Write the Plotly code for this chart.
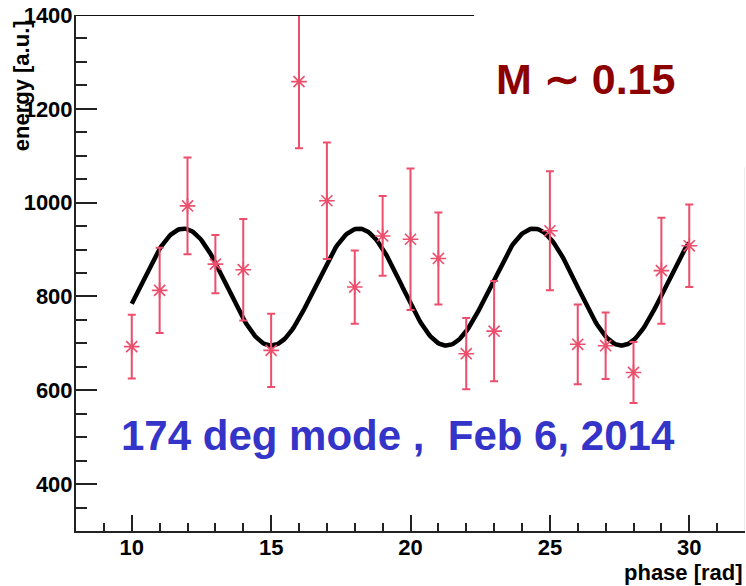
import numpy as np
import plotly.graph_objects as go

# Measured energy per phase bin
phase = [10, 11, 12, 13, 14, 15, 16, 17, 18, 19, 20, 21, 22, 23, 25, 26, 27, 28, 29, 30]
energy = [693, 813, 993, 869, 857, 685, 1258, 1004, 820, 929, 922, 881, 678, 726, 940, 698, 695, 638, 855, 908]
energy_err = [68, 91, 103, 62, 108, 78, 142, 124, 78, 85, 151, 98, 76, 107, 127, 85, 71, 65, 113, 88]

# Fit: E(phi) = E0 * (1 + M * cos(phi - phi0))
fit_e0 = 820.0
fit_m = 0.152
fit_phi0 = 11.86
fit_range = (10.0, 30.0)

x_range = [8, 32]
y_range = [300, 1400]

point_color = "rgb(236,78,108)"
font_family = "Liberation Sans, Arial, sans-serif"

fit_x = np.linspace(fit_range[0], fit_range[1], 400)
fit_y = fit_e0 * (1 + fit_m * np.cos(fit_x - fit_phi0))

fig = go.Figure()

fig.add_trace(go.Scatter(
    x=fit_x, y=fit_y, mode="lines",
    line=dict(color="black", width=4.5),
    hoverinfo="skip", showlegend=False,
))

fig.add_trace(go.Scatter(
    x=phase, y=energy, mode="markers",
    marker=dict(symbol="asterisk-open", size=13, color=point_color,
                line=dict(color=point_color, width=1.6)),
    error_y=dict(type="data", array=energy_err, visible=True,
                 color=point_color, thickness=2, width=4),
    showlegend=False,
))

# small centre dots of the markers
fig.add_trace(go.Scatter(
    x=phase, y=energy, mode="markers",
    marker=dict(symbol="circle", size=4, color=point_color),
    hoverinfo="skip", showlegend=False,
))

axis_font = dict(family=font_family, size=22, color="black", weight="bold")

fig.update_xaxes(
    range=x_range, tickvals=[10, 15, 20, 25, 30],
    ticks="inside", ticklen=16, tickwidth=1.5, tickcolor="#222",
    minor=dict(dtick=1, tick0=0, ticks="inside", ticklen=8, tickwidth=1.5, tickcolor="#222"),
    showline=True, linecolor="#222", linewidth=2,
    showgrid=False, zeroline=False, tickfont=axis_font,
    ticklabelstandoff=-4,
)
fig.update_yaxes(
    range=y_range, tickvals=[400, 600, 800, 1000, 1200, 1400],
    ticktext=["400", "600", "800", "1000", "1200", "1400"],
    ticks="inside", ticklen=21, tickwidth=1.5, tickcolor="#222",
    minor=dict(dtick=50, tick0=0, ticks="inside", ticklen=11, tickwidth=1.5, tickcolor="#222"),
    showline=True, linecolor="#222", linewidth=2,
    showgrid=False, zeroline=False, tickfont=axis_font,
    ticklabelstandoff=-3,
)

# partial upper frame and faint right frame
fig.add_shape(type="line", xref="x", yref="y", x0=x_range[0], x1=22.28,
              y0=y_range[1], y1=y_range[1], line=dict(color="#111", width=2))
fig.add_shape(type="line", xref="x", yref="y", x0=x_range[1], x1=x_range[1],
              y0=y_range[0], y1=1076, line=dict(color="#d8d8d8", width=1))

annotations = [
    dict(text="energy [a.u.]", x=-0.0822, y=0.862, textangle=-90,
         xanchor="center", yanchor="middle",
         font=dict(family=font_family, size=22, color="black", weight="bold")),
    dict(text="phase [rad]", x=1.0, y=-0.08, xanchor="right", yanchor="middle",
         font=dict(family=font_family, size=22, color="black", weight="bold")),
    dict(text="174 deg mode ,\u00a0 Feb 6, 2014", x=0.4813, y=0.186,
         xanchor="center", yanchor="middle",
         font=dict(family=font_family, size=42, color="#3434C8", weight="bold")),
    dict(text="M \u223c 0.15", x=0.762, y=0.876, xanchor="center", yanchor="middle",
         font=dict(family=font_family, size=43, color="#8C0000", weight="bold")),
]
for a in annotations:
    a.update(xref="paper", yref="paper", showarrow=False)

fig.update_layout(
    width=746, height=586,
    margin=dict(l=76, r=1, t=15, b=55),
    paper_bgcolor="white", plot_bgcolor="white",
    annotations=annotations,
    showlegend=False,
)

fig.write_html("out.html")
